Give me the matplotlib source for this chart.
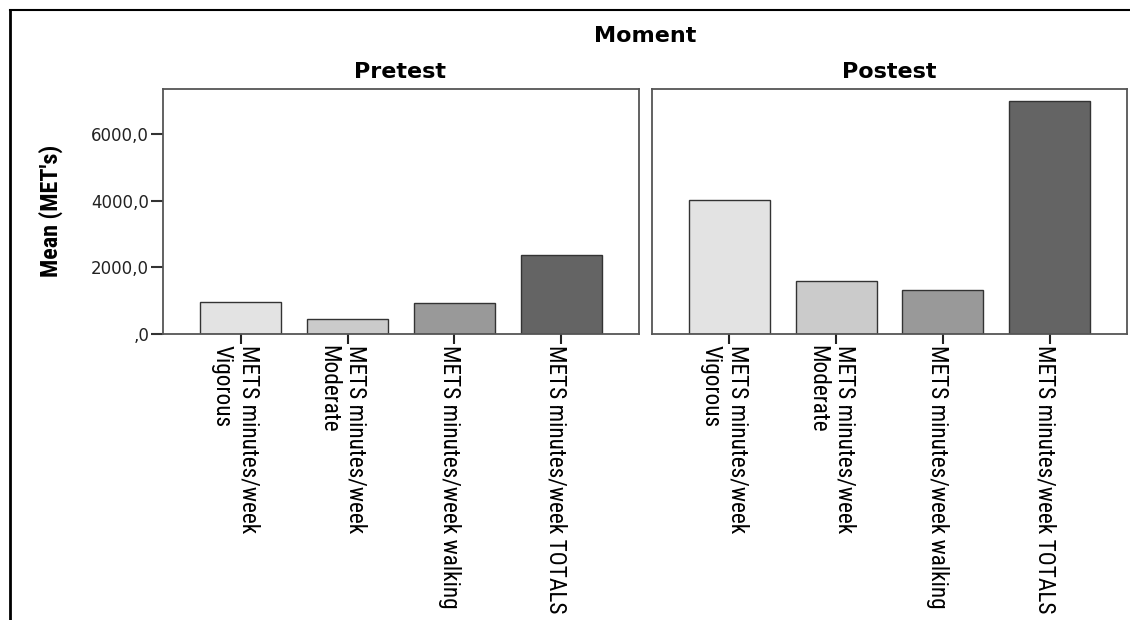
import matplotlib
matplotlib.use("Agg")
import matplotlib.pyplot as plt
import matplotlib.transforms as mtransforms
from matplotlib.lines import Line2D

# Data
categories = ["METS minutes/week\nVigorous", "METS minutes/week\nModerate",
              "METS minutes/week walking", "METS minutes/week TOTALS"]
moments = ["Pretest", "Postest"]
pretest_means = [975, 452, 944, 2382]
postest_means = [4040, 1607, 1327, 7004]
bar_colors = ["#e3e3e3", "#cbcbcb", "#999999", "#646464"]
y_ticks = [0, 2000, 4000, 6000]
y_tick_labels = [",0", "2000,0", "4000,0", "6000,0"]

W, H = 1130, 620
# SPSS uses a narrow font for the category labels; take whichever condensed face exists
narrow = ["Liberation Sans Narrow", "Roboto Condensed", "Noto Sans Condensed",
          "Open Sans Condensed", "DejaVu Sans"]

def px_rect(left, right, top, bottom):
    return [left / W, 1 - bottom / H, (right - left) / W, (bottom - top) / H]

fig = plt.figure(figsize=(W / 100, H / 100), dpi=100)
ax_pre = fig.add_axes(px_rect(163, 639, 89, 334))
ax_post = fig.add_axes(px_rect(652, 1127, 89, 334))

title_x = [400, 889]
for ax, means, title, tx in zip([ax_pre, ax_post], [pretest_means, postest_means], moments, title_x):
    x = list(range(len(categories)))
    ax.bar(x, means, width=0.76, color=bar_colors, edgecolor="#333333", linewidth=1.0, zorder=2)
    ax.set_xlim(-0.725, 3.725)
    ax.set_ylim(0, 7360)
    ax.set_xticks(x)
    ax.set_xticklabels(categories, rotation=-90, ha="center", va="top", ma="left",
                       fontsize=17.5, family=narrow, fontstretch="condensed",
                       linespacing=1.25)
    ax.tick_params(axis="x", length=7, width=1.5, color="#222222", pad=1)
    for s in ax.spines.values():
        s.set_color("#555555")
        s.set_linewidth(1.3)
    fig.text(tx / W, 1 - 72.5 / H, title, ha="center", va="center",
             fontsize=16, fontweight="bold")

ax_pre.set_yticks(y_ticks)
ax_pre.set_yticklabels(y_tick_labels, fontsize=12, color="#222222")
ax_pre.tick_params(axis="y", length=9, width=1.5, color="#333333", pad=1)
ax_post.set_yticks(y_ticks)
ax_post.tick_params(axis="y", left=False, labelleft=False)

fig.text(645 / W, 1 - 35.5 / H, "Moment", ha="center", va="center",
         fontsize=16, fontweight="bold")
ylab = fig.text(51 / W, 1 - 211 / H, "Mean (MET's)", rotation=90, ha="center", va="center",
                fontsize=18, fontweight="bold", family=narrow, fontstretch="condensed")

# size the narrow texts so their length matches the original (label ~267 px, y title ~132 px)
fig.canvas.draw()
renderer = fig.canvas.get_renderer()
longest = ax_pre.get_xticklabels()[3]
scale = 267 / longest.get_window_extent(renderer).height
for ax in (ax_pre, ax_post):
    for lab in ax.get_xticklabels():
        lab.set_fontsize(lab.get_fontsize() * scale)
ylab.set_fontsize(ylab.get_fontsize() * 132 / ylab.get_window_extent(renderer).height)

# nudge the rotated labels a bit to the left, as in the original
offset = mtransforms.ScaledTranslation(-5 / 100, 0, fig.dpi_scale_trans)
for ax in (ax_pre, ax_post):
    for lab in ax.get_xticklabels():
        lab.set_transform(lab.get_transform() + offset)

# outer frame (top and left edges of the cropped output window)
fig.add_artist(Line2D([10 / W, 10 / W], [0, 1 - 10 / H], transform=fig.transFigure,
                      color="black", linewidth=2))
fig.add_artist(Line2D([10 / W, 1], [1 - 10 / H, 1 - 10 / H], transform=fig.transFigure,
                      color="black", linewidth=1.5))

fig.savefig("out.png", dpi=100)
